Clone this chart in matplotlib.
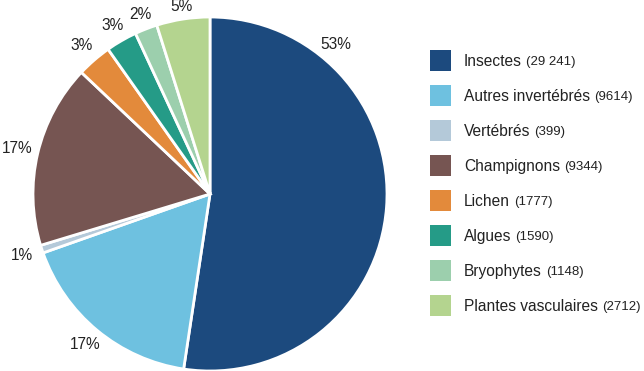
import matplotlib
matplotlib.use("Agg")
import numpy as np
import matplotlib.pyplot as plt
from matplotlib.patches import Rectangle
from matplotlib.text import Annotation

plt.rcParams['font.family'] = ['Liberation Sans', 'DejaVu Sans']

# data
names = ["Insectes", "Autres invertébrés", "Vertébrés", "Champignons",
         "Lichen", "Algues", "Bryophytes", "Plantes vasculaires"]
counts = [29241, 9614, 399, 9344, 1777, 1590, 1148, 2712]
count_labels = ["(29 241)", "(9614)", "(399)", "(9344)", "(1777)", "(1590)", "(1148)", "(2712)"]
pct_labels = ["53%", "17%", "1%", "17%", "3%", "3%", "2%", "5%"]
colors = ["#1c4a7e", "#6ec1e0", "#b4c9d9", "#765552",
          "#e38a3b", "#259b87", "#9ccfad", "#b4d48f"]

W, H = 644, 371
fig = plt.figure(figsize=(W / 100, H / 100), dpi=100)
txt_col = "#222222"

# pie: center ~ (210,194) px, radius ~177 px
r = 177
cx, cy = 210, 194
ax = fig.add_axes([(cx - r) / W, (H - cy - r) / H, 2 * r / W, 2 * r / H])
wedges, _ = ax.pie(counts, colors=colors, startangle=90, counterclock=False,
                   wedgeprops=dict(edgecolor="white", linewidth=2))
ax.set_xlim(-1, 1)
ax.set_ylim(-1, 1)
ax.set_aspect("equal")
ax.axis("off")

# percentage labels just outside the arc; the big slice's label sits top-right
hw, hh = 15.5 / r, 5 / r   # half text box in radius units
gap = 5 / r
for i, (w, lab) in enumerate(zip(wedges, pct_labels)):
    ang = np.deg2rad((w.theta1 + w.theta2) / 2)
    if i == 0:
        ang = np.deg2rad(50)
    ux, uy = np.cos(ang), np.sin(ang)
    d = 1 + gap + abs(ux) * hw + abs(uy) * hh
    ax.text(d * ux, d * uy, lab, ha="center", va="center", fontsize=11.2,
            color=txt_col, clip_on=False)

# legend drawn by hand so that name and count can have different sizes
for i, (name, cnt, col) in enumerate(zip(names, count_labels, colors)):
    yc = 60.5 + i * 35
    fig.add_artist(Rectangle((430 / W, 1 - (yc + 10.5) / H), 21 / W, 21 / H,
                             transform=fig.transFigure, facecolor=col,
                             edgecolor="none"))
    t = fig.text(464 / W, 1 - (yc + 5.5) / H, name, fontsize=11.2,
                 va="baseline", ha="left", color=txt_col)
    fig.add_artist(Annotation(cnt, xy=(1, 0), xycoords=t, xytext=(2.8, 0.5),
                              textcoords="offset points", fontsize=9.5,
                              va="bottom", ha="left", color=txt_col))

fig.savefig("out.png", dpi=100)
